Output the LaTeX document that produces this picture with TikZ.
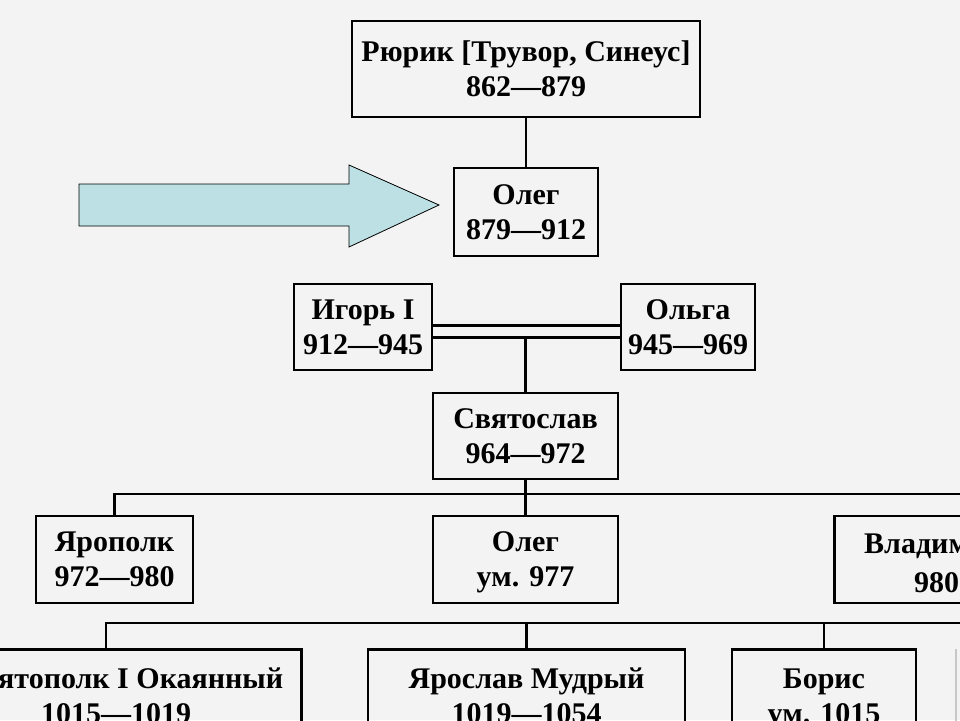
\documentclass[tikz,border=0pt]{standalone}
\usepackage{fontspec}
\setmainfont{Liberation Serif}
\usetikzlibrary{calc}
\definecolor{bgc}{HTML}{F3F3F3}
\definecolor{arrowc}{HTML}{BCE0E4}
\tikzset{
  famnode/.style={draw, line width=2.6pt, inner sep=0pt, align=center,
    font=\bfseries\fontsize{30}{35}\selectfont},
  famtext/.style={inner sep=0pt, font=\bfseries\fontsize{30}{35}\selectfont},
  link/.style={line width=2.4pt},
  pointer/.style={draw=black, line width=0.8pt, fill=arrowc, line join=miter},
}
\begin{document}
\begin{tikzpicture}[x=1pt,y=-1pt]
\useasboundingbox (0,0) rectangle (960,720);
\clip (0,0) rectangle (960,720);
\fill[bgc] (0,0) rectangle (960,720);

% generations
\node[famnode, minimum width=348, minimum height=96] (rurik) at (526,69) {Рюрик [Трувор, Синеус]\\862—879};
\node[famnode, minimum width=144, minimum height=88] (oleg1) at (526,212) {Олег\\879—912};
\node[famnode, minimum width=138, minimum height=86] (igor) at (363,327) {Игорь I\\912—945};
\node[famnode, minimum width=134, minimum height=86] (olga) at (688,327) {Ольга\\945—969};
\node[famnode, minimum width=185, minimum height=86] (svyat) at (525.5,436) {Святослав\\964—972};
\node[famnode, minimum width=157, minimum height=87] (yaropolk) at (114.5,559.5) {Ярополк\\972—980};
\node[famnode, minimum width=185, minimum height=87] (oleg2) at (525.5,559.5) {Олег\\\smash{ум. 977}};
\node[famnode, minimum width=180, minimum height=87, anchor=west] (vlad) at (833,559.5) {};
\node[famtext, anchor=base west] (vladA) at (864,553) {Владим};
\node[famtext, anchor=base west] (vladB) at (914,592) {980};

\node[famnode, minimum width=392, minimum height=94, anchor=north east] (svpk) at (303,648) {};
\node[famtext, anchor=base west] (svpkA) at (-2,688) {ятополк I Окаянный};
\node[famtext, anchor=base] (svpkB) at (116,723) {1015—1019};
\node[famnode, minimum width=317, minimum height=94, anchor=north] (yaroslav) at (526.5,648) {Ярослав Мудрый\\1019—1054};
\node[famnode, minimum width=184, minimum height=94, anchor=north] (boris) at (824,648) {Борис\\\smash{ум. 1015}};
\draw[black!22, line width=1.6pt] (956,649) -- (956,722);

% pointer arrow
\draw[pointer] (79,184) -- (349,184) -- (349,165) -- (439,205) -- (349,247) -- (349,226) -- (79,226) -- cycle;

% connectors
\draw[link] (rurik.south) -- (oleg1.north);
\coordinate (wed) at ($(igor.east)!0.5!(olga.west)$);
\draw[line width=3pt, double=bgc, double distance=9pt] ([yshift=-4pt]igor.east) -- ([yshift=-4pt]olga.west);
\coordinate (wedlow) at ([yshift=-10pt]wed);
\draw[link] (wedlow) -- (svyat.north |- wedlow) -- (svyat.north);

\coordinate (busA) at (962,494);
\draw[link] (yaropolk.north) |- (busA);
\draw[link] (svyat.south) -- (oleg2.north);

\coordinate (busB) at (962,623);
\draw[link] (svpk.north) |- (busB);
\draw[link] (yaroslav.north) -- (yaroslav.north |- busB);
\draw[link] (boris.north) -- (boris.north |- busB);
\end{tikzpicture}
\end{document}
